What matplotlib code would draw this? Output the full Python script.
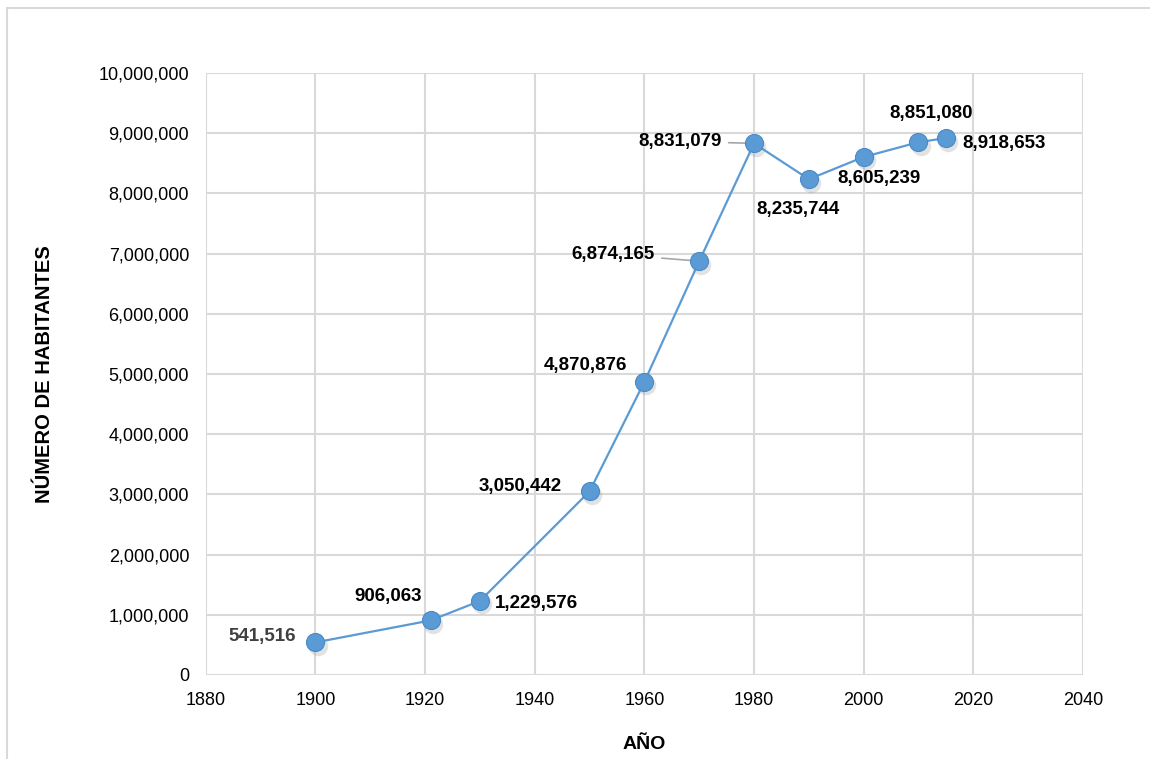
import matplotlib.pyplot as plt
import matplotlib.transforms as mtransforms
from matplotlib.patches import Rectangle
from matplotlib.ticker import FuncFormatter, MultipleLocator

# Population by census year
years = [1900, 1921, 1930, 1950, 1960, 1970, 1980, 1990, 2000, 2010, 2015]
population = [541516, 906063, 1229576, 3050442, 4870876, 6874165,
              8831079, 8235744, 8605239, 8851080, 8918653]

# label offsets in pixels (dx, dy) and whether a leader line is drawn
label_offsets = [(-53, 6), (-42, 24), (56, -3), (-69, 5), (-59, 16), (-86, 7),
                 (-74, 2), (-11, -30), (15, -22), (13, 29), (58, -5)]
leader = [False, False, False, False, False, True, True, False, False, False, True]

plt.rcParams['font.family'] = ['Liberation Sans', 'DejaVu Sans']

fig = plt.figure(figsize=(11.5, 7.59), dpi=100)
ax = fig.add_axes([0.179, 0.1107, 0.7627, 0.7931])

blue = '#5B9BD5'

# soft shadow under the markers
shadow = mtransforms.offset_copy(ax.transData, fig=fig, x=1.5, y=-2.5, units='points')
ax.plot(years, population, 'o', ms=14, color='#7f7f7f', alpha=0.22,
        transform=shadow, zorder=2, markeredgewidth=0)

ax.plot(years, population, '-', color=blue, lw=1.6, zorder=3)
ax.plot(years, population, 'o', ms=13, color=blue, markeredgecolor='#4a8ac6',
        markeredgewidth=0.8, zorder=4)

for x, y, (dx, dy), ld in zip(years, population, label_offsets, leader):
    col = '#404040' if x == 1900 else 'black'
    kw = {}
    if ld:
        kw['arrowprops'] = dict(arrowstyle='-', color='#a6a6a6', lw=1.2,
                                shrinkA=3, shrinkB=0)
    ax.annotate(f'{y:,}', (x, y), xytext=(dx, dy), textcoords='offset pixels',
                ha='center', va='center', fontsize=13.5, fontweight='bold',
                color=col, zorder=5 if not ld else 3, **kw)

ax.set_xlim(1880, 2040)
ax.set_ylim(0, 10000000)
ax.xaxis.set_major_locator(MultipleLocator(20))
ax.yaxis.set_major_locator(MultipleLocator(1000000))
ax.yaxis.set_major_formatter(FuncFormatter(lambda v, p: f'{int(v):,}'))

ax.grid(True, color='#d9d9d9', lw=1.5, zorder=0)
ax.set_axisbelow(True)
for s in ax.spines.values():
    s.set_visible(False)
ax.tick_params(length=0, labelsize=13, colors='black')
ax.tick_params(axis='y', pad=12)
ax.tick_params(axis='x', pad=12)

ax.set_xlabel('AÑO', fontsize=14, fontweight='bold', labelpad=20)
ax.set_ylabel('NÚMERO DE HABITANTES', fontsize=14.5, fontweight='bold', labelpad=32)

# chart area border
fig.patches.append(Rectangle((7 / 1150, -0.1), 1.1, 1 - 8 / 759 + 0.1,
                             transform=fig.transFigure, fill=False,
                             edgecolor='#d9d9d9', lw=1.5))

fig.savefig('out.png', dpi=100)
